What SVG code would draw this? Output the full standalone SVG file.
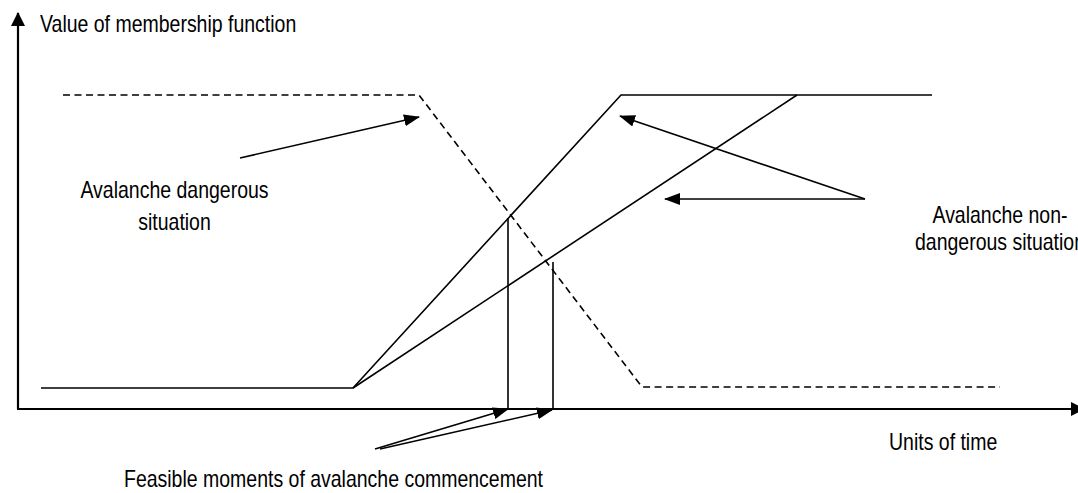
<svg xmlns="http://www.w3.org/2000/svg" width="1078" height="493" viewBox="0 0 1078 493">
<style>
  .t { font-family: "Liberation Sans", Arial, sans-serif; font-size: 19.5px; fill: #000; }
  .axis { stroke: #000; stroke-width: 2.2; fill: none; }
  .ln { stroke: #000; stroke-width: 1.6; fill: none; }
  .dash { stroke: #000; stroke-width: 1.6; fill: none; stroke-dasharray: 7 4.5; }
  .arr { stroke: #000; stroke-width: 1.6; fill: none; marker-end: url(#ah); }
</style>
<defs>
  <marker id="ah" markerUnits="userSpaceOnUse" markerWidth="16" markerHeight="12" viewBox="0 0 16 12" refX="15" refY="6" orient="auto">
    <path d="M0,0 L16,6 L0,12 Z" fill="#000"/>
  </marker>
  <marker id="axh" markerUnits="userSpaceOnUse" markerWidth="14" markerHeight="14" viewBox="0 0 14 14" refX="13" refY="7" orient="auto">
    <path d="M0,0 L14,7 L0,14 Z" fill="#000"/>
  </marker>
</defs>
<rect width="1078" height="493" fill="#fff"/>
<g id="axes">
  <line class="axis" x1="18" y1="409" x2="18" y2="13" marker-end="url(#axh)"/>
  <line class="axis" x1="17" y1="409" x2="1084" y2="409" marker-end="url(#axh)"/>
</g>
<g id="curves">
  <polyline id="dangerous-curve" class="dash" points="63,95 419,95 642,387 1000,387"/>
  <polyline id="nondangerous-curve-1" class="ln" points="41,388 353,388 621,95 932,95"/>
  <line id="nondangerous-curve-2" class="ln" x1="353" y1="388" x2="797" y2="95"/>
  <line id="moment-1" class="ln" x1="508" y1="218" x2="508" y2="409"/>
  <line id="moment-2" class="ln" x1="553" y1="262" x2="553" y2="409"/>
</g>
<g id="connectors">
  <line class="arr" x1="240" y1="158" x2="419" y2="117"/>
  <line class="arr" x1="865" y1="199" x2="620" y2="116"/>
  <line class="arr" x1="865" y1="199" x2="665" y2="199"/>
  <line class="arr" x1="375" y1="449" x2="508" y2="409"/>
  <line class="arr" x1="380" y1="449" x2="552" y2="410"/>
</g>
<g id="label-y">
  <text class="t" transform="translate(40,32) scale(1,1.2)">Value of membership function</text>
</g>
<g id="label-dangerous">
  <text class="t" text-anchor="middle" transform="translate(174.5,198) scale(1,1.2)">Avalanche dangerous</text>
  <text class="t" text-anchor="middle" transform="translate(174.5,230) scale(1,1.2)">situation</text>
</g>
<g id="label-nondangerous">
  <text class="t" text-anchor="middle" transform="translate(1000,223) scale(1,1.2)">Avalanche non-</text>
  <text class="t" text-anchor="middle" transform="translate(1000,250) scale(1,1.2)">dangerous situation</text>
</g>
<g id="label-x">
  <text class="t" transform="translate(889,450) scale(1,1.2)">Units of time</text>
</g>
<g id="label-moments">
  <text class="t" text-anchor="end" transform="translate(543,487) scale(1,1.2)">Feasible moments of avalanche commencement</text>
</g>
</svg>
